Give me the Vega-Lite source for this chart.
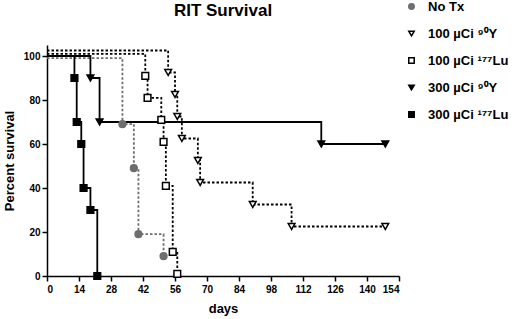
{
  "$schema": "https://vega.github.io/schema/vega-lite/v6.json",
  "autosize": {"type": "none"},
  "width": 352,
  "height": 231,
  "padding": {"left": 47, "top": 45, "right": 121, "bottom": 43},
  "background": "white",
  "config": {
    "view": {"stroke": null},
    "font": "Liberation Sans",
    "axis": {"grid": false, "domainColor": "black", "tickColor": "black", "labelColor": "black", "titleColor": "black", "labelFont": "Liberation Sans", "labelFontWeight": "bold", "labelFontSize": 10, "titleFont": "Liberation Sans", "titleFontWeight": "bold", "titleFontSize": 13, "domainWidth": 1.5, "tickWidth": 1.5, "tickSize": 5},
    "legend": {"orient": "none", "legendX": 358, "legendY": -45, "labelFont": "Liberation Sans", "labelFontWeight": "bold", "labelFontSize": 13, "labelColor": "black", "rowPadding": 13, "labelOffset": 10, "symbolSize": 30, "padding": 0, "symbolStrokeWidth": 1.5}
  },
  "title": {"text": "RIT Survival", "fontSize": 17, "fontWeight": "bold", "font": "Liberation Sans", "color": "black", "anchor": "middle", "offset": 0, "dy": 20},
  "data": {"values": [
    {"group": "No Tx", "day": 0, "pct": 99},
    {"group": "No Tx", "day": 33, "pct": 69},
    {"group": "No Tx", "day": 38, "pct": 49},
    {"group": "No Tx", "day": 40, "pct": 19},
    {"group": "No Tx", "day": 51, "pct": 9},
    {"group": "100 µCi ⁹⁰Y", "day": 0, "pct": 102.5},
    {"group": "100 µCi ⁹⁰Y", "day": 53, "pct": 92.5},
    {"group": "100 µCi ⁹⁰Y", "day": 56, "pct": 82.5},
    {"group": "100 µCi ⁹⁰Y", "day": 57, "pct": 72.5},
    {"group": "100 µCi ⁹⁰Y", "day": 59, "pct": 62.5},
    {"group": "100 µCi ⁹⁰Y", "day": 66, "pct": 52.5},
    {"group": "100 µCi ⁹⁰Y", "day": 67, "pct": 42.5},
    {"group": "100 µCi ⁹⁰Y", "day": 90, "pct": 32.5},
    {"group": "100 µCi ⁹⁰Y", "day": 107, "pct": 22.5},
    {"group": "100 µCi ⁹⁰Y", "day": 148, "pct": 22.5},
    {"group": "100 µCi ¹⁷⁷Lu", "day": 0, "pct": 101},
    {"group": "100 µCi ¹⁷⁷Lu", "day": 43, "pct": 91},
    {"group": "100 µCi ¹⁷⁷Lu", "day": 44, "pct": 81},
    {"group": "100 µCi ¹⁷⁷Lu", "day": 50, "pct": 71},
    {"group": "100 µCi ¹⁷⁷Lu", "day": 51, "pct": 61},
    {"group": "100 µCi ¹⁷⁷Lu", "day": 52, "pct": 41},
    {"group": "100 µCi ¹⁷⁷Lu", "day": 55, "pct": 11},
    {"group": "100 µCi ¹⁷⁷Lu", "day": 57, "pct": 1},
    {"group": "300 µCi ⁹⁰Y", "day": 0, "pct": 100},
    {"group": "300 µCi ⁹⁰Y", "day": 19, "pct": 90},
    {"group": "300 µCi ⁹⁰Y", "day": 23, "pct": 70},
    {"group": "300 µCi ⁹⁰Y", "day": 120, "pct": 60},
    {"group": "300 µCi ⁹⁰Y", "day": 148, "pct": 60},
    {"group": "300 µCi ¹⁷⁷Lu", "day": 0, "pct": 100},
    {"group": "300 µCi ¹⁷⁷Lu", "day": 12, "pct": 90},
    {"group": "300 µCi ¹⁷⁷Lu", "day": 13, "pct": 70},
    {"group": "300 µCi ¹⁷⁷Lu", "day": 15, "pct": 60},
    {"group": "300 µCi ¹⁷⁷Lu", "day": 16, "pct": 40},
    {"group": "300 µCi ¹⁷⁷Lu", "day": 19, "pct": 30},
    {"group": "300 µCi ¹⁷⁷Lu", "day": 22, "pct": 0}
  ]},
  "encoding": {
    "x": {"field": "day", "type": "quantitative", "scale": {"domain": [0, 154], "nice": false}, "axis": {"values": [0, 14, 28, 42, 56, 70, 84, 98, 112, 126, 140, 154], "title": "days", "titlePadding": 8, "labelPadding": 3}},
    "y": {"field": "pct", "type": "quantitative", "scale": {"domain": [0, 105], "nice": false}, "axis": {"values": [0, 20, 40, 60, 80, 100], "title": "Percent survival", "titlePadding": 7, "labelPadding": 2}},
    "stroke": {"field": "group", "type": "nominal", "title": null, "scale": {"domain": ["No Tx", "100 µCi ⁹⁰Y", "100 µCi ¹⁷⁷Lu", "300 µCi ⁹⁰Y", "300 µCi ¹⁷⁷Lu"], "range": ["#6e6e6e", "black", "black", "black", "black"]}}
  },
  "layer": [
    {
      "transform": [{"filter": "indexof(datum.group, '300') < 0"}],
      "mark": {"type": "line", "interpolate": "step-after", "strokeWidth": 1.8, "strokeDash": [2.5, 2]}
    },
    {
      "transform": [{"filter": "indexof(datum.group, '300') >= 0"}],
      "mark": {"type": "line", "interpolate": "step-after", "strokeWidth": 1.8}
    },
    {
      "transform": [{"filter": "datum.day > 0"}],
      "mark": {"type": "point", "filled": false, "size": 45, "strokeWidth": 1.5, "opacity": 1},
      "encoding": {
        "shape": {"field": "group", "type": "nominal", "title": null, "scale": {"domain": ["No Tx", "100 µCi ⁹⁰Y", "100 µCi ¹⁷⁷Lu", "300 µCi ⁹⁰Y", "300 µCi ¹⁷⁷Lu"], "range": ["circle", "triangle-down", "square", "triangle-down", "square"]}},
        "fill": {"field": "group", "type": "nominal", "title": null, "scale": {"domain": ["No Tx", "100 µCi ⁹⁰Y", "100 µCi ¹⁷⁷Lu", "300 µCi ⁹⁰Y", "300 µCi ¹⁷⁷Lu"], "range": ["#6e6e6e", "white", "white", "black", "black"]}}
      }
    }
  ]
}
